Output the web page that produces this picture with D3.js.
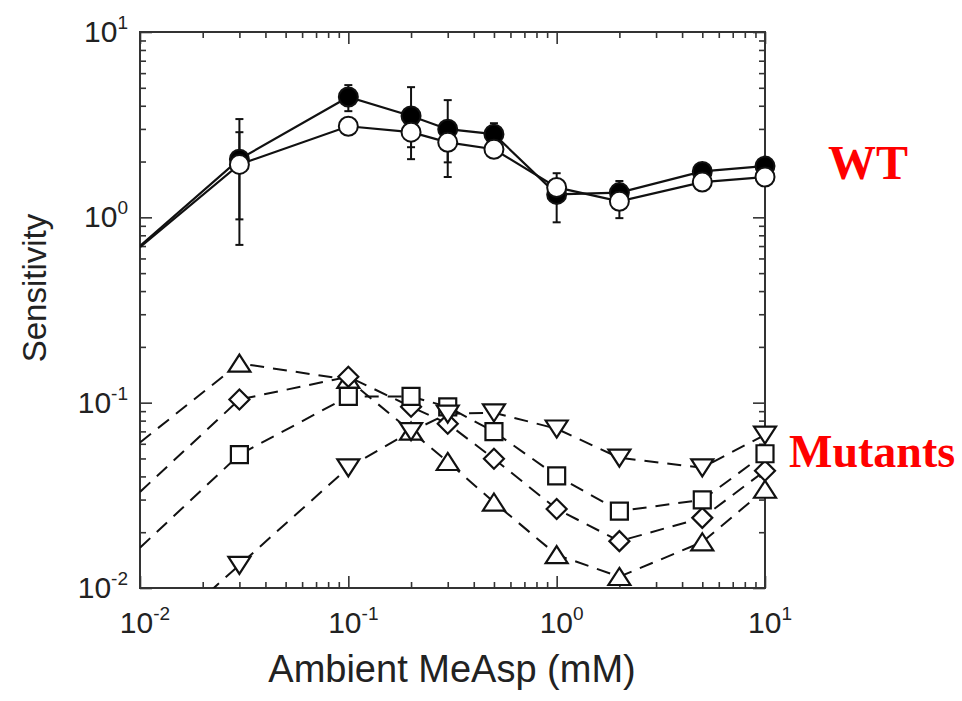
<!DOCTYPE html>
<html>
<head>
<meta charset="utf-8">
<script src="https://cdn.jsdelivr.net/npm/d3@7"></script>
<style>
  body { margin: 0; background: #fff; }
  text { font-family: "Liberation Sans", Arial, sans-serif; fill: #222; }
</style>
</head>
<body>
<div id="container"></div>
<script>
// concentrations (mM) where points were measured
const conc = [0.03, 0.1, 0.2, 0.3, 0.5, 1, 2, 5, 10];

// wild type, two data sets (filled / open circles)
const wtFilled = [2.06, 4.46, 3.52, 2.99, 2.81, 1.33, 1.36, 1.77, 1.89];
const wtOpen   = [1.93, 3.10, 2.88, 2.54, 2.33, 1.45, 1.22, 1.55, 1.65];
const wtFilledErr = [[0.71, 3.39], [3.74, 5.17], [2.39, 5.04], [1.98, 4.29], [2.4, 3.22], [0.94, 1.73], [0.99, 1.57], null, null];
const wtOpenErr   = [[0.975, 2.88], null, [2.06, 2.88], [1.65, 2.54], null, null, null, null, null];

// mutants (open symbols, dashed lines)
const mutTriUp   = [0.163, 0.133, 0.070, 0.048, 0.029, 0.0151, 0.0115, 0.0177, 0.034];
const mutDiamond = [0.104, 0.138, 0.095, 0.077, 0.0498, 0.0267, 0.0179, 0.0239, 0.0429];
const mutSquare  = [0.0524, 0.108, 0.108, 0.095, 0.0697, 0.0403, 0.026, 0.0299, 0.053];
const mutTriDown = [0.0133, 0.0446, 0.070, 0.087, 0.0883, 0.0723, 0.0504, 0.0446, 0.0671];

// curves come in from the left frame, value at x = 0.01
const edgeConc = 0.01;
const edgeWT = [0.70, 0.69];
const edgeMut = [0.061, 0.033, 0.0165, 0.0044];

const xTicks = [0.01, 0.1, 1, 10];
const yTicks = [0.01, 0.1, 1, 10];
const tickExp = ["-2", "-1", "0", "1"];

const W = 962, H = 701;
const pLeft = 140, pRight = 765, pTop = 32, pBottom = 588;

const svg = d3.select("#container")
  .append("svg")
  .attr("width", W)
  .attr("height", H);

let x = d3.scaleLog().domain([0.01, 10]).range([pLeft, pRight]);
let y = d3.scaleLog().domain([0.01, 10]).range([pBottom, pTop]);

svg.append("clipPath").attr("id", "plotclip")
  .append("rect")
  .attr("x", pLeft).attr("y", pTop)
  .attr("width", pRight - pLeft).attr("height", pBottom - pTop);

// ticks on all four sides, pointing inward
let minor = x.ticks().filter(d => xTicks.indexOf(d) < 0);
let minorY = y.ticks().filter(d => yTicks.indexOf(d) < 0);
function tickAxes(axisFn, scale, pos, major, minorVals) {
  let g = svg.append("g").attr("transform", pos);
  g.call(axisFn(scale).tickValues(major).tickSize(-12).tickFormat(""));
  g.append("g").call(axisFn(scale).tickValues(minorVals).tickSize(-6).tickFormat(""));
  g.selectAll(".domain").remove();
  g.selectAll("line").attr("stroke", "#333").attr("stroke-width", 1.6);
}
tickAxes(d3.axisBottom, x, `translate(0,${pBottom})`, xTicks, minor);
tickAxes(d3.axisTop, x, `translate(0,${pTop})`, xTicks, minor);
tickAxes(d3.axisLeft, y, `translate(${pLeft},0)`, yTicks, minorY);
tickAxes(d3.axisRight, y, `translate(${pRight},0)`, yTicks, minorY);

svg.append("rect")
  .attr("x", pLeft).attr("y", pTop)
  .attr("width", pRight - pLeft).attr("height", pBottom - pTop)
  .attr("fill", "none")
  .attr("stroke", "#333")
  .attr("stroke-width", 2);

// tick labels 10^n
let xl = svg.append("g").selectAll("text")
  .data(xTicks)
  .join("text")
  .attr("x", d => x(d) + 5)
  .attr("y", 633)
  .attr("text-anchor", "middle")
  .attr("font-size", 30);
xl.append("tspan").text("10");
xl.append("tspan").text((d, i) => tickExp[i]).attr("font-size", 19).attr("dy", -13);

let yl = svg.append("g").selectAll("text")
  .data(yTicks)
  .join("text")
  .attr("x", 128)
  .attr("y", d => y(d) + 10)
  .attr("text-anchor", "end")
  .attr("font-size", 30);
yl.append("tspan").text("10");
yl.append("tspan").text((d, i) => tickExp[i]).attr("font-size", 19).attr("dy", -13);

svg.append("text")
  .attr("x", 452).attr("y", 682)
  .attr("text-anchor", "middle")
  .attr("font-size", 38)
  .text("Ambient MeAsp (mM)");

svg.append("text")
  .attr("transform", "translate(46,288) rotate(-90)")
  .attr("text-anchor", "middle")
  .attr("font-size", 33)
  .text("Sensitivity");

// marker shapes, size = half width
const triUp = { draw(c, s) { c.moveTo(0, -s * 0.8); c.lineTo(s, s * 0.75); c.lineTo(-s, s * 0.75); c.closePath(); } };
const triDown = { draw(c, s) { c.moveTo(0, s * 0.8); c.lineTo(s, -s * 0.75); c.lineTo(-s, -s * 0.75); c.closePath(); } };
const square = { draw(c, s) { c.rect(-s, -s, 2 * s, 2 * s); } };
const diamond = { draw(c, s) { c.moveTo(0, -s); c.lineTo(s, 0); c.lineTo(0, s); c.lineTo(-s, 0); c.closePath(); } };

let line = d3.line().x(d => x(d[0])).y(d => y(d[1]));
let plot = svg.append("g").attr("clip-path", "url(#plotclip)");

// mutants
const mutants = [
  { vals: mutTriUp, shape: triUp, size: 11 },
  { vals: mutDiamond, shape: diamond, size: 10 },
  { vals: mutSquare, shape: square, size: 8.5 },
  { vals: mutTriDown, shape: triDown, size: 11 }
];
mutants.forEach((m, k) => {
  let pts = [[edgeConc, edgeMut[k]]].concat(conc.map((c, i) => [c, m.vals[i]]));
  plot.append("path")
    .attr("d", line(pts))
    .attr("fill", "none")
    .attr("stroke", "#111")
    .attr("stroke-width", 2)
    .attr("stroke-dasharray", "14,9");
});
mutants.forEach(m => {
  svg.append("g").selectAll("path")
    .data(conc)
    .join("path")
    .attr("transform", (d, i) => `translate(${x(d)},${y(m.vals[i])})`)
    .attr("d", d3.symbol().type(m.shape).size(m.size))
    .attr("fill", "#fff")
    .attr("stroke", "#111")
    .attr("stroke-width", 2.2);
});

// wild type
const wt = [
  { vals: wtFilled, err: wtFilledErr, fill: "#000" },
  { vals: wtOpen, err: wtOpenErr, fill: "#fff" }
];
wt.forEach((s, k) => {
  let pts = [[edgeConc, edgeWT[k]]].concat(conc.map((c, i) => [c, s.vals[i]]));
  plot.append("path")
    .attr("d", line(pts))
    .attr("fill", "none")
    .attr("stroke", "#111")
    .attr("stroke-width", 2.2);
});
wt.forEach(s => {
  let bars = conc.map((c, i) => ({ c: c, e: s.err[i] })).filter(d => d.e);
  let eg = svg.append("g").attr("stroke", "#111").attr("stroke-width", 2);
  eg.selectAll(".v").data(bars).join("line")
    .attr("x1", d => x(d.c)).attr("x2", d => x(d.c))
    .attr("y1", d => y(d.e[0])).attr("y2", d => y(d.e[1]));
  eg.selectAll(".lo").data(bars).join("line")
    .attr("x1", d => x(d.c) - 4).attr("x2", d => x(d.c) + 4)
    .attr("y1", d => y(d.e[0])).attr("y2", d => y(d.e[0]));
  eg.selectAll(".hi").data(bars).join("line")
    .attr("x1", d => x(d.c) - 4).attr("x2", d => x(d.c) + 4)
    .attr("y1", d => y(d.e[1])).attr("y2", d => y(d.e[1]));
});
wt.forEach(s => {
  svg.append("g").selectAll("circle")
    .data(conc)
    .join("circle")
    .attr("cx", d => x(d))
    .attr("cy", (d, i) => y(s.vals[i]))
    .attr("r", 9.5)
    .attr("fill", s.fill)
    .attr("stroke", "#111")
    .attr("stroke-width", 2);
});

svg.append("text")
  .attr("x", 828).attr("y", 179)
  .style("font-family", "'Liberation Serif', 'Times New Roman', serif")
  .style("fill", "#ff0000")
  .attr("font-weight", "bold")
  .attr("font-size", 48)
  .text("WT");

svg.append("text")
  .attr("x", 789).attr("y", 467)
  .style("font-family", "'Liberation Serif', 'Times New Roman', serif")
  .style("fill", "#ff0000")
  .attr("font-weight", "bold")
  .attr("font-size", 46)
  .text("Mutants");
</script>
</body>
</html>
